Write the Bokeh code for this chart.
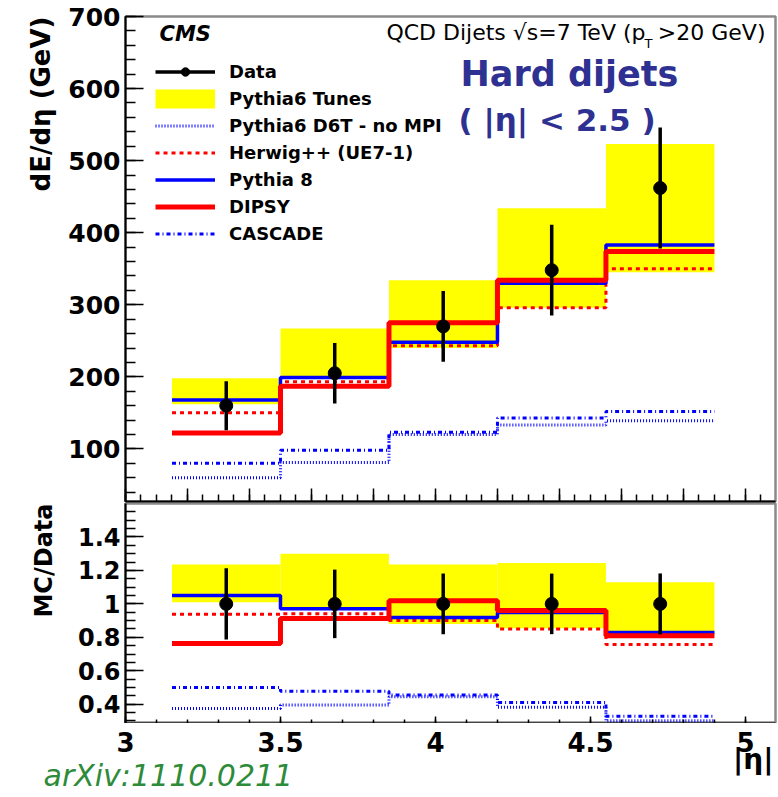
from bokeh.core.properties import value
from bokeh.embed import file_html
from bokeh.layouts import column
from bokeh.models import FixedTicker, Label, Legend, LegendItem, Range1d, Title
from bokeh.plotting import figure
from bokeh.resources import INLINE

# |eta| bins of the energy-flow measurement
bin_edges = [3.15, 3.5, 3.85, 4.2, 4.55, 4.9]

# dE/deta (GeV), hard dijets, |eta_jet| < 2.5
data_vals = [160, 205, 270, 348, 462]
data_errs = [34, 42, 49, 63, 84]
tunes_lo = [162, 199, 240, 296, 345]
tunes_hi = [198, 267, 334, 434, 523]
d6t_nompi = [60, 81, 120, 133, 139]
herwig = [150, 193, 243, 296, 350]
pythia8 = [168, 199, 248, 330, 383]
dipsy = [122, 187, 275, 334, 374]
cascade = [80, 98, 123, 143, 152]

# envelope of the Pythia6 tunes in the MC/Data ratio
ratio_tunes_lo = [1.01, 0.97, 0.88, 0.855, 0.82]
ratio_tunes_hi = [1.235, 1.30, 1.235, 1.245, 1.13]

# axis ticks
top_y_ticks = [100, 200, 300, 400, 500, 600, 700]
top_y_minor = [40 + 20 * i for i in range(34)]
top_x_ticks = [3.0, 3.2, 3.4, 3.6, 3.8, 4.0, 4.2, 4.4, 4.6, 4.8, 5.0]
top_x_minor = [round(3.0 + 0.05 * i, 2) for i in range(42)]
bot_x_ticks = [3.0, 3.5, 4.0, 4.5, 5.0]
bot_x_labels = ["3", "3.5", "4", "4.5", "5"]
bot_x_minor = [round(3.0 + 0.1 * i, 1) for i in range(21)]
bot_y_ticks = [0.4, 0.6, 0.8, 1.0, 1.2, 1.4]
bot_y_labels = {0.4: "0.4", 0.6: "0.6", 0.8: "0.8", 1.0: "1", 1.2: "1.2", 1.4: "1.4"}
bot_y_minor = [round(0.3 + 0.05 * i, 2) for i in range(26)]

FONT = "DejaVu Sans"
YELLOW = "#FFFF00"
BLUE = "#0000FF"
RED = "#FF0000"
NAVY = "#2E3192"
GREEN = "#2E8B3A"

DOTTED = "1 2"
DASHED = "4 4"
DASHDOT = "4 3 1 3"

# pixel geometry of the panels
LEFT, RIGHT, WIDTH = 125, 3, 650
X_MIN, X_MAX = 3.0, 5.097
PX_PER_X = WIDTH / (X_MAX - X_MIN)
STRIP_H = 66

centers = [(a + b) / 2 for a, b in zip(bin_edges[:-1], bin_edges[1:])]
left_edges = bin_edges[:-1]
right_edges = bin_edges[1:]


def step_y(vals):
    return list(vals) + [vals[-1]]


def style(p):
    p.grid.visible = False
    p.background_fill_color = "white"
    p.border_fill_color = "white"
    p.outline_line_color = "#8a8a8a"
    p.outline_line_width = 2.5
    for ax in (p.xaxis[0], p.yaxis[0]):
        ax.axis_line_color = "black"
        ax.axis_line_width = 2
        ax.major_tick_line_color = "black"
        ax.minor_tick_line_color = "black"
        ax.major_tick_line_width = 1.5
        ax.minor_tick_line_width = 1.5
        ax.major_tick_out = 0
        ax.minor_tick_out = 0
        ax.major_label_text_font = FONT
        ax.major_label_text_font_style = "bold"
        ax.major_label_text_color = "black"


def hide_x_labels(ax):
    ax.major_label_text_font_size = "0px"
    ax.major_label_text_color = None
    ax.major_label_standoff = 0


def lbl(p, x, y, text, size, **kw):
    opts = dict(x=x, y=y, x_units="screen", y_units="screen", text=text,
                text_font=FONT, text_font_size=f"{size}px", text_color="black")
    opts.update(kw)
    p.add_layout(Label(**opts))


def draw_models(p, d6t_v, cas_v, hw_v, py8_v, dip_v):
    r_d6t = p.step(bin_edges, step_y(d6t_v), mode="after", line_color=BLUE,
                   line_width=3, line_dash=DOTTED)
    r_cas = p.step(bin_edges, step_y(cas_v), mode="after", line_color=BLUE,
                   line_width=3, line_dash=DASHDOT)
    r_hw = p.step(bin_edges, step_y(hw_v), mode="after", line_color=RED,
                  line_width=3, line_dash=DASHED)
    r_py8 = p.step(bin_edges, step_y(py8_v), mode="after", line_color=BLUE,
                   line_width=3.5)
    r_dip = p.step(bin_edges, step_y(dip_v), mode="after", line_color=RED,
                   line_width=5)
    return r_d6t, r_cas, r_hw, r_py8, r_dip


# ---------------- upper panel: dE/deta ----------------
p1 = figure(frame_width=WIDTH, frame_height=485, min_border_left=LEFT,
            min_border_right=RIGHT, min_border_top=16, min_border_bottom=2,
            x_range=Range1d(X_MIN, X_MAX), y_range=Range1d(27, 700),
            output_backend="svg", toolbar_location=None)
style(p1)
p1.yaxis.ticker = FixedTicker(ticks=top_y_ticks, minor_ticks=top_y_minor)
p1.xaxis.ticker = FixedTicker(ticks=top_x_ticks, minor_ticks=top_x_minor)
p1.yaxis.major_tick_in = 18
p1.yaxis.minor_tick_in = 10
p1.yaxis.major_label_text_font_size = "25px"
p1.yaxis.major_label_standoff = 5
p1.xaxis.major_tick_in = 13
p1.xaxis.minor_tick_in = 7
hide_x_labels(p1.xaxis[0])

p1.quad(left=left_edges, right=right_edges, bottom=tunes_lo, top=tunes_hi,
        fill_color=YELLOW, line_color=None)
r_d6t, r_cas, r_hw, r_py8, r_dip = draw_models(p1, d6t_nompi, cascade, herwig,
                                               pythia8, dipsy)
r_err = p1.segment(x0=centers, x1=centers,
                   y0=[v - e for v, e in zip(data_vals, data_errs)],
                   y1=[v + e for v, e in zip(data_vals, data_errs)],
                   line_color="black", line_width=3.5)
r_pts = p1.scatter(centers, data_vals, size=13, color="black")
# legend key for the tune band (kept below the visible y range)
r_tunes = p1.line([bin_edges[0], bin_edges[-1]], [-500, -500],
                  line_color=YELLOW, line_width=19)

legend = Legend(items=[
    LegendItem(label="Data", renderers=[r_err, r_pts]),
    LegendItem(label="Pythia6 Tunes", renderers=[r_tunes]),
    LegendItem(label="Pythia6 D6T - no MPI", renderers=[r_d6t]),
    LegendItem(label="Herwig++ (UE7-1)", renderers=[r_hw]),
    LegendItem(label="Pythia 8", renderers=[r_py8]),
    LegendItem(label="DIPSY", renderers=[r_dip]),
    LegendItem(label="CASCADE", renderers=[r_cas]),
], location=(30, 257), orientation="vertical", margin=0, padding=0,
    spacing=6, glyph_width=60, glyph_height=21, label_height=21,
    label_standoff=14, border_line_color=None, background_fill_alpha=0,
    label_text_font=FONT, label_text_font_style="bold",
    label_text_font_size="18px", label_text_color="black")
p1.add_layout(legend, "center")

p1.add_layout(Title(text="dE/dη (GeV)", align="right", standoff=20,
                    text_font=FONT, text_font_size="26px",
                    text_font_style="bold", text_color="black"), "left")

lbl(p1, 34, 456, "CMS", 21, text_font_style="bold italic")
lbl(p1, 640, 457, ">20 GeV)", 22, text_align="right")
lbl(p1, 519, 451, "T", 13)
lbl(p1, 520, 457, "QCD Dijets √s=7 TeV (p", 22, text_align="right")
lbl(p1, 335, 408, "Hard dijets", 35, text_font_style="bold", text_color=NAVY)
lbl(p1, 333, 364, "( |η| < 2.5 )", 31, text_font_style="bold", text_color=NAVY)

# ---------------- lower panel: MC/Data ----------------
p2 = figure(frame_width=WIDTH, frame_height=220, min_border_left=LEFT,
            min_border_right=RIGHT, min_border_top=0, min_border_bottom=0,
            x_range=p1.x_range, y_range=Range1d(0.285, 1.6),
            output_backend="svg", toolbar_location=None)
style(p2)
p2.xaxis.ticker = FixedTicker(ticks=bot_x_ticks, minor_ticks=bot_x_minor)
p2.xaxis.major_tick_in = 7
p2.xaxis.minor_tick_in = 4
hide_x_labels(p2.xaxis[0])
p2.yaxis.ticker = FixedTicker(ticks=bot_y_ticks, minor_ticks=bot_y_minor)
p2.yaxis.major_label_overrides = bot_y_labels
p2.yaxis.major_tick_in = 18
p2.yaxis.minor_tick_in = 10
p2.yaxis.major_label_text_font_size = "24px"
p2.yaxis.major_label_standoff = 5


def ratio(vals):
    return [v / d for v, d in zip(vals, data_vals)]


p2.quad(left=left_edges, right=right_edges, bottom=ratio_tunes_lo,
        top=ratio_tunes_hi, fill_color=YELLOW, line_color=None)
draw_models(p2, ratio(d6t_nompi), ratio(cascade), ratio(herwig),
            ratio(pythia8), ratio(dipsy))
rel_err = [e / d for e, d in zip(data_errs, data_vals)]
p2.segment(x0=centers, x1=centers, y0=[1 - r for r in rel_err],
           y1=[1 + r for r in rel_err], line_color="black", line_width=3.5)
p2.scatter(centers, [1.0] * len(centers), size=13, color="black")

p2.add_layout(Title(text="MC/Data", align="right", standoff=34,
                    text_font=FONT, text_font_size="24px",
                    text_font_style="bold", text_color="black"), "left")

# ---------------- strip below: x tick labels, axis title, reference ----------------
# y counts pixels downward from the top of the strip
p3 = figure(frame_width=LEFT + WIDTH + RIGHT, frame_height=STRIP_H,
            min_border=0, x_axis_location=None, y_axis_location=None,
            x_range=Range1d(X_MIN - LEFT / PX_PER_X, X_MAX + RIGHT / PX_PER_X),
            y_range=Range1d(STRIP_H, 0), output_backend="svg",
            toolbar_location=None)
if "frame_align" in p3.properties():
    p3.frame_align = False
p3.grid.visible = False
p3.outline_line_color = None
p3.background_fill_color = "white"
p3.border_fill_color = "white"
p3.text(x=bot_x_ticks, y=[18] * len(bot_x_ticks), text=bot_x_labels,
        text_align="center", text_baseline="alphabetic",
        text_font=value(FONT), text_font_style="bold",
        text_font_size="26px", text_color="black")
p3.text(x=[X_MAX - 2 / PX_PER_X], y=[36], text=["|η|"], text_align="right",
        text_baseline="alphabetic", text_font=value(FONT),
        text_font_style="bold", text_font_size="28px", text_color="black")
p3.text(x=[X_MIN - 82 / PX_PER_X], y=[52], text=["arXiv:1110.0211"],
        text_align="left", text_baseline="alphabetic", text_font=value(FONT),
        text_font_style="italic", text_font_size="30px", text_color=GREEN)

layout = column(p1, p2, p3, spacing=0)
open("out.html", "w").write(file_html(layout, INLINE))
